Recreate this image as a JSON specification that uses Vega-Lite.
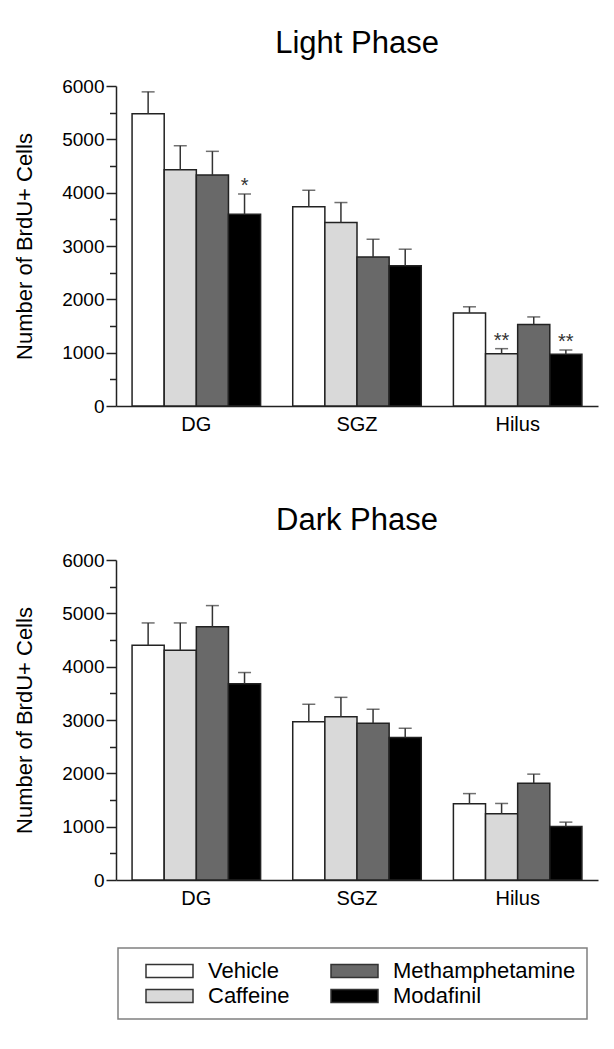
{
  "$schema": "https://vega.github.io/schema/vega-lite/v6.json",
  "padding": {"left": 13, "top": 27, "right": 5, "bottom": 5},
  "background": "white",
  "datasets": {
    "bars": [
      {"phase": "Light", "region": "DG", "treatment": "Vehicle", "mean": 5480, "err": 5890, "sig": ""},
      {"phase": "Light", "region": "DG", "treatment": "Caffeine", "mean": 4430, "err": 4880, "sig": ""},
      {"phase": "Light", "region": "DG", "treatment": "Methamphetamine", "mean": 4330, "err": 4775, "sig": ""},
      {"phase": "Light", "region": "DG", "treatment": "Modafinil", "mean": 3595, "err": 3975, "sig": "*"},
      {"phase": "Light", "region": "SGZ", "treatment": "Vehicle", "mean": 3735, "err": 4045, "sig": ""},
      {"phase": "Light", "region": "SGZ", "treatment": "Caffeine", "mean": 3440, "err": 3815, "sig": ""},
      {"phase": "Light", "region": "SGZ", "treatment": "Methamphetamine", "mean": 2795, "err": 3125, "sig": ""},
      {"phase": "Light", "region": "SGZ", "treatment": "Modafinil", "mean": 2630, "err": 2940, "sig": ""},
      {"phase": "Light", "region": "Hilus", "treatment": "Vehicle", "mean": 1745, "err": 1860, "sig": ""},
      {"phase": "Light", "region": "Hilus", "treatment": "Caffeine", "mean": 980, "err": 1075, "sig": "**"},
      {"phase": "Light", "region": "Hilus", "treatment": "Methamphetamine", "mean": 1530, "err": 1670, "sig": ""},
      {"phase": "Light", "region": "Hilus", "treatment": "Modafinil", "mean": 970, "err": 1050, "sig": "**"},
      {"phase": "Dark", "region": "DG", "treatment": "Vehicle", "mean": 4400, "err": 4820, "sig": ""},
      {"phase": "Dark", "region": "DG", "treatment": "Caffeine", "mean": 4310, "err": 4820, "sig": ""},
      {"phase": "Dark", "region": "DG", "treatment": "Methamphetamine", "mean": 4750, "err": 5145, "sig": ""},
      {"phase": "Dark", "region": "DG", "treatment": "Modafinil", "mean": 3680, "err": 3890, "sig": ""},
      {"phase": "Dark", "region": "SGZ", "treatment": "Vehicle", "mean": 2965, "err": 3295, "sig": ""},
      {"phase": "Dark", "region": "SGZ", "treatment": "Caffeine", "mean": 3060, "err": 3425, "sig": ""},
      {"phase": "Dark", "region": "SGZ", "treatment": "Methamphetamine", "mean": 2940, "err": 3200, "sig": ""},
      {"phase": "Dark", "region": "SGZ", "treatment": "Modafinil", "mean": 2670, "err": 2845, "sig": ""},
      {"phase": "Dark", "region": "Hilus", "treatment": "Vehicle", "mean": 1430, "err": 1620, "sig": ""},
      {"phase": "Dark", "region": "Hilus", "treatment": "Caffeine", "mean": 1240, "err": 1435, "sig": ""},
      {"phase": "Dark", "region": "Hilus", "treatment": "Methamphetamine", "mean": 1815, "err": 1985, "sig": ""},
      {"phase": "Dark", "region": "Hilus", "treatment": "Modafinil", "mean": 1005, "err": 1085, "sig": ""}
    ]
  },
  "spacing": 71,
  "vconcat": [
    {
      "title": {"text": "Light Phase"},
      "width": 482,
      "height": 320,
      "data": {"name": "bars"},
      "transform": [{"filter": "datum.phase === 'Light'"}],
      "encoding": {
        "x": {"field": "region", "type": "nominal", "sort": ["DG", "SGZ", "Hilus"], "scale": {"paddingInner": 0.2, "paddingOuter": 0.1}, "axis": {"title": null, "labelAngle": 0, "ticks": false, "labelPadding": 8, "labelFontSize": 20}},
        "xOffset": {"field": "treatment", "type": "nominal", "sort": ["Vehicle", "Caffeine", "Methamphetamine", "Modafinil"], "scale": {"paddingInner": 0, "paddingOuter": 0}}
      },
      "layer": [
        {
          "mark": {"type": "bar", "stroke": "#222222", "strokeWidth": 1.5},
          "encoding": {
            "y": {"field": "mean", "type": "quantitative", "scale": {"domain": [0, 6000], "nice": false}, "axis": {"title": "Number of BrdU+ Cells", "values": [0, 1000, 2000, 3000, 4000, 5000, 6000], "format": "d", "tickSize": 10, "labelPadding": 2, "titlePadding": 25}},
            "color": {"field": "treatment", "type": "nominal", "scale": {"domain": ["Vehicle", "Caffeine", "Methamphetamine", "Modafinil"], "range": ["#ffffff", "#d9d9d9", "#696969", "#000000"]}, "legend": {"title": null}}
          }
        },
        {
          "mark": {"type": "rule", "color": "#333333", "strokeWidth": 1.5},
          "encoding": {
            "y": {"field": "mean", "type": "quantitative", "axis": {"title": null, "values": [500, 1500, 2500, 3500, 4500, 5500], "labels": false, "domain": false, "tickSize": 6.5, "orient": "left"}},
            "y2": {"field": "err"}
          }
        },
        {
          "mark": {"type": "tick", "color": "#333333", "thickness": 1.5, "size": 13},
          "encoding": {"y": {"field": "err", "type": "quantitative", "axis": null}}
        },
        {
          "mark": {"type": "text", "baseline": "alphabetic", "dy": -2, "fontSize": 20, "color": "#333333"},
          "encoding": {"y": {"field": "err", "type": "quantitative", "axis": null}, "text": {"field": "sig"}}
        }
      ],
      "resolve": {"axis": {"y": "independent"}}
    },
    {
      "title": {"text": "Dark Phase"},
      "width": 482,
      "height": 320,
      "data": {"name": "bars"},
      "transform": [{"filter": "datum.phase === 'Dark'"}],
      "encoding": {
        "x": {"field": "region", "type": "nominal", "sort": ["DG", "SGZ", "Hilus"], "scale": {"paddingInner": 0.2, "paddingOuter": 0.1}, "axis": {"title": null, "labelAngle": 0, "ticks": false, "labelPadding": 8, "labelFontSize": 20}},
        "xOffset": {"field": "treatment", "type": "nominal", "sort": ["Vehicle", "Caffeine", "Methamphetamine", "Modafinil"], "scale": {"paddingInner": 0, "paddingOuter": 0}}
      },
      "layer": [
        {
          "mark": {"type": "bar", "stroke": "#222222", "strokeWidth": 1.5},
          "encoding": {
            "y": {"field": "mean", "type": "quantitative", "scale": {"domain": [0, 6000], "nice": false}, "axis": {"title": "Number of BrdU+ Cells", "values": [0, 1000, 2000, 3000, 4000, 5000, 6000], "format": "d", "tickSize": 10, "labelPadding": 2, "titlePadding": 25}},
            "color": {"field": "treatment", "type": "nominal", "scale": {"domain": ["Vehicle", "Caffeine", "Methamphetamine", "Modafinil"], "range": ["#ffffff", "#d9d9d9", "#696969", "#000000"]}, "legend": {"title": null}}
          }
        },
        {
          "mark": {"type": "rule", "color": "#333333", "strokeWidth": 1.5},
          "encoding": {
            "y": {"field": "mean", "type": "quantitative", "axis": {"title": null, "values": [500, 1500, 2500, 3500, 4500, 5500], "labels": false, "domain": false, "tickSize": 6.5, "orient": "left"}},
            "y2": {"field": "err"}
          }
        },
        {
          "mark": {"type": "tick", "color": "#333333", "thickness": 1.5, "size": 13},
          "encoding": {"y": {"field": "err", "type": "quantitative", "axis": null}}
        },
        {
          "mark": {"type": "text", "baseline": "alphabetic", "dy": -2, "fontSize": 20, "color": "#333333"},
          "encoding": {"y": {"field": "err", "type": "quantitative", "axis": null}, "text": {"field": "sig"}}
        }
      ],
      "resolve": {"axis": {"y": "independent"}}
    }
  ],
  "config": {
    "font": "Liberation Sans",
    "view": {"stroke": null},
    "title": {"fontSize": 31, "fontWeight": "normal", "font": "Liberation Sans", "color": "#000000", "anchor": "middle", "baseline": "alphabetic", "offset": 14},
    "axis": {
      "grid": false,
      "domainColor": "#222222",
      "domainWidth": 1.5,
      "tickColor": "#222222",
      "tickWidth": 1.5,
      "tickSize": 10,
      "labelPadding": 2,
      "labelFontSize": 19,
      "labelColor": "#000000",
      "labelFont": "Liberation Sans",
      "titleFont": "Liberation Sans",
      "titleFontSize": 22,
      "titleFontWeight": "normal",
      "titleColor": "#000000",
      "titlePadding": 25
    },
    "legend": {
      "orient": "none",
      "legendX": 2,
      "legendY": 862,
      "columns": 2,
      "columnPadding": 24,
      "rowPadding": 1,
      "clipHeight": 24,
      "padding": 11,
      "symbolOffset": 16,
      "strokeColor": "#808080",
      "strokeWidth": 1.5,
      "symbolType": "M-1,-0.277H1V0.277H-1Z",
      "symbolSize": 2209,
      "symbolStrokeColor": "#333333",
      "symbolStrokeWidth": 1.5,
      "labelFontSize": 22,
      "labelFont": "Liberation Sans",
      "labelColor": "#000000",
      "labelOffset": 14,
      "labelLimit": 400
    }
  }
}
